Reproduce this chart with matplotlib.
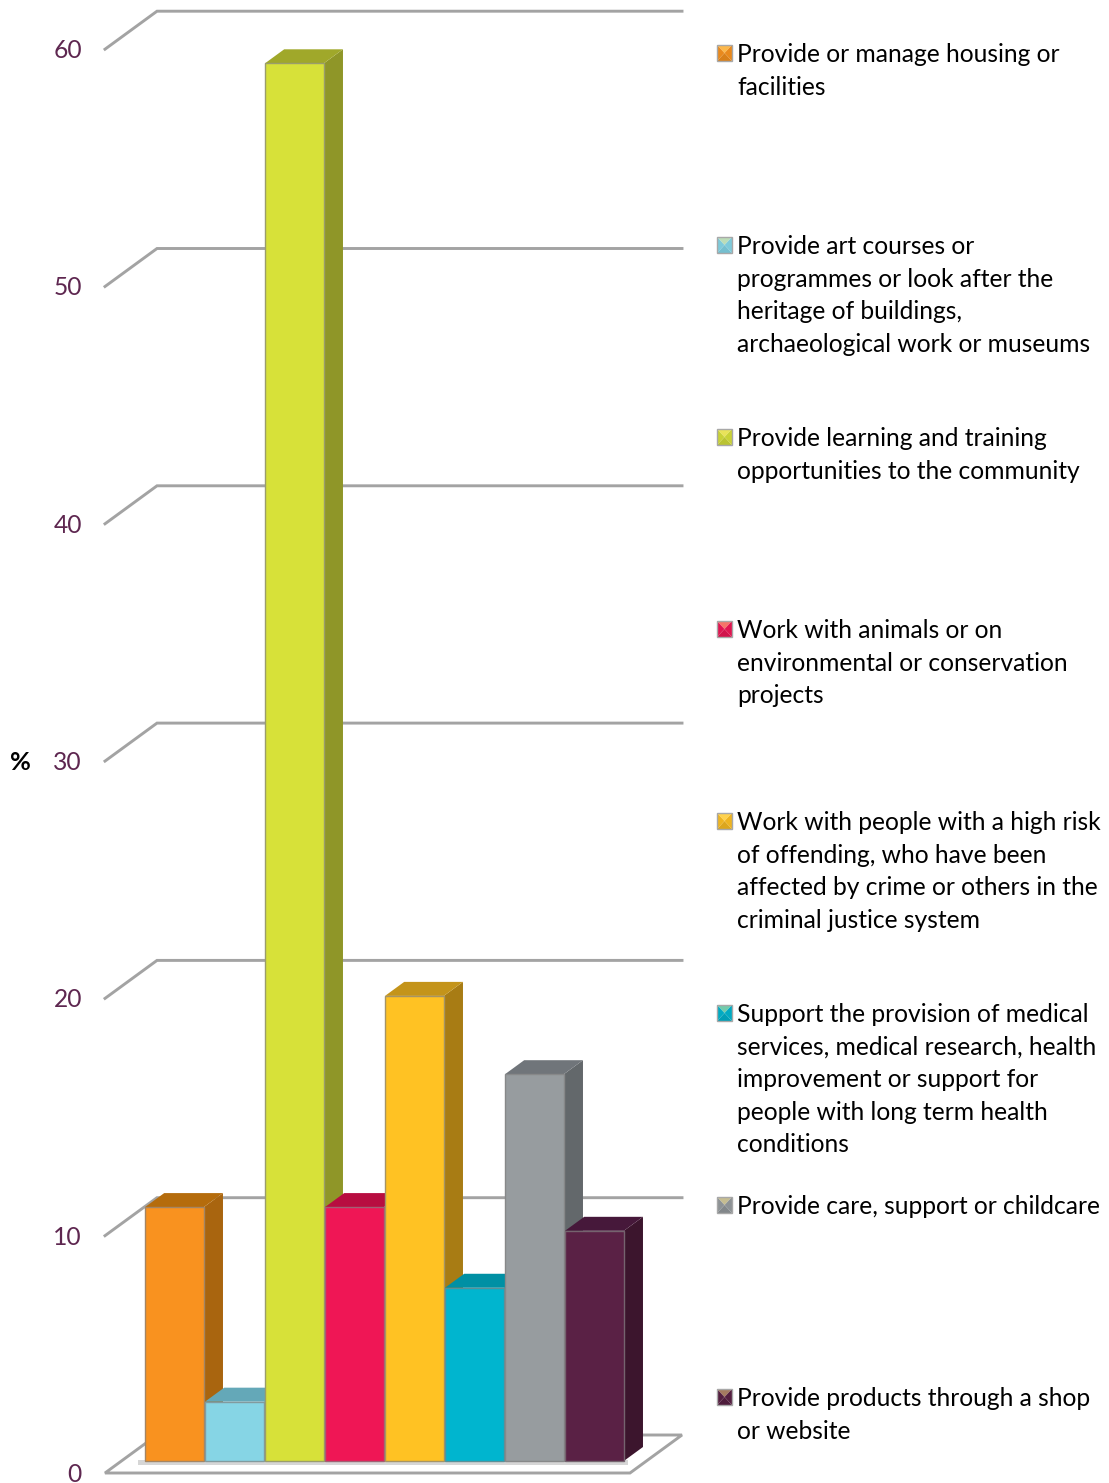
# activity_bars.py
# 3D look column chart, drawn flat with polygons

import matplotlib
matplotlib.use("Agg")
import matplotlib.pyplot as plt
from matplotlib.colors import to_rgb
from matplotlib.patches import Polygon

plt.rcParams["font.family"] = ["Lato", "DejaVu Sans"]

# ----- data
categories = [
    "Provide or manage housing or\nfacilities",
    "Provide art courses or\nprogrammes or look after the\nheritage of buildings,\narchaeological work or museums",
    "Provide learning and training\nopportunities to the community",
    "Work with animals or on\nenvironmental or conservation\nprojects",
    "Work with people with a high risk\nof offending, who have been\naffected by crime or others in the\ncriminal justice system",
    "Support the provision of medical\nservices, medical research, health\nimprovement or support for\npeople with long term health\nconditions",
    "Provide care, support or childcare",
    "Provide products through a shop\nor website",
]
values = [10.7, 2.5, 58.9, 10.7, 19.6, 7.3, 16.3, 9.7]
ticks = [0, 10, 20, 30, 40, 50, 60]

front_colors = ["#F9921F", "#86D5E5", "#D7E139", "#EF1655", "#FFC223", "#00B5CF", "#979C9F", "#5A2145"]
side_colors = ["#A9650F", "#5C9FAE", "#8F9628", "#A30F3B", "#A87C14", "#007E90", "#63686B", "#3C152D"]
top_colors = ["#B56C0C", "#64A8B8", "#A0A82A", "#B80D40", "#C4941A", "#0090A4", "#70757A", "#46183A"]

# ----- geometry of the picture, in pixels
W, H = 1109, 1483
SLOT = 60.0        # px per category
PER_UNIT = 23.73   # px per percent
ZERO_Y = 1473
LEFT = 105
FLOOR_W = 525
DEPTH_X = 52 / SLOT
DEPTH_Y = 38 / PER_UNIT
BAR_D0, BAR_D1 = 12 / 38, 26 / 38
BAR_X0 = 23.6      # px from floor corner to the first slot
AXIS = "#A3A3A3"
TICK_COLOR = "#5E2750"
FS = 17.75


def fx(px):
    return (px - LEFT - BAR_X0) / SLOT


def fy(py):
    return (ZERO_Y - py) / PER_UNIT


def proj(x, v, d):
    """Move a point (slot, percent) back into the depth of the chart."""
    return (x + d * DEPTH_X, v + d * DEPTH_Y)


def mix(a, b, t):
    return tuple((1 - t) * p + t * q for p, q in zip(to_rgb(a), to_rgb(b)))


def main():
    fig = plt.figure(figsize=(W / 100, H / 100), dpi=100)
    ax = fig.add_axes([0, 0, 1, 1])
    ax.set_xlim(fx(0), fx(W))
    ax.set_ylim(fy(H), fy(0))
    ax.set_axis_off()

    x_start = fx(LEFT)
    x_end = fx(LEFT + FLOOR_W)

    # grid lines: slanted part on the side wall, then along the back wall
    for t in ticks[1:]:
        pts = [proj(x_start, t, 0), proj(x_start, t, 1), proj(x_end, t, 1)]
        ax.plot(*zip(*pts), color=AXIS, lw=2.1, solid_joinstyle="miter", zorder=1)

    # floor and the soft shadow under the bars
    floor = [proj(x_start, 0, 1), proj(x_start, 0, 0), proj(x_end, 0, 0), proj(x_end, 0, 1)]
    ax.add_patch(Polygon(floor, closed=True, facecolor="white", edgecolor=AXIS, lw=2.1, zorder=1))
    ax.add_patch(Polygon([(fx(138), fy(1460)), (fx(628), fy(1460)), (fx(628), fy(1465)), (fx(138), fy(1465))],
                         closed=True, facecolor="#D6D6D6", edgecolor="none", zorder=1.5))

    # bars go left to right so each front hides the side of the one before
    for i, v in enumerate(values):
        z = 2 + i
        l, r = i, i + 0.98
        side = [proj(r, 0, BAR_D0), proj(r, 0, BAR_D1), proj(r, v, BAR_D1), proj(r, v, BAR_D0)]
        top = [proj(l, v, BAR_D0), proj(r, v, BAR_D0), proj(r, v, BAR_D1), proj(l, v, BAR_D1)]
        front = [proj(l, 0, BAR_D0), proj(r, 0, BAR_D0), proj(r, v, BAR_D0), proj(l, v, BAR_D0)]
        ax.add_patch(Polygon(side, closed=True, facecolor=side_colors[i], edgecolor="none", zorder=z))
        ax.add_patch(Polygon(top, closed=True, facecolor=top_colors[i], edgecolor="none", zorder=z))
        ax.add_patch(Polygon(front, closed=True, facecolor=front_colors[i],
                             edgecolor=mix(front_colors[i], "#808080", 0.7),
                             lw=1.0, zorder=z + 0.5))

    # y labels
    for t in ticks:
        ax.text(fx(82), t - 0.06, str(t), ha="right", va="center", color=TICK_COLOR, fontsize=FS)
    ax.text(fx(20.5), fy(762), "%", ha="center", va="center", color="black",
            fontsize=18.3, fontweight="bold")

    # legend keys and labels
    for i, label in enumerate(categories):
        cy = 53 + 192 * i
        x0, x1 = fx(717), fx(732)
        y0, y1 = fy(cy + 8), fy(cy - 8)
        xc, yc = (x0 + x1) / 2, (y0 + y1) / 2
        tri = [([(x0, y1), (x1, y1), (xc, yc)], mix(front_colors[i], "#FFE680", 0.45)),
               ([(x0, y0), (x1, y0), (xc, yc)], mix(front_colors[i], side_colors[i], 0.4)),
               ([(x0, y0), (x0, y1), (xc, yc)], mix(front_colors[i], side_colors[i], 0.2)),
               ([(x1, y0), (x1, y1), (xc, yc)], mix(front_colors[i], side_colors[i], 0.2))]
        for pts, c in tri:
            ax.add_patch(Polygon(pts, closed=True, facecolor=c, edgecolor="none", zorder=20))
        ax.add_patch(Polygon([(x0, y0), (x1, y0), (x1, y1), (x0, y1)], closed=True,
                             facecolor="none", edgecolor="#A8A8A8", lw=1.0, zorder=21))
        for j, line in enumerate(label.split("\n")):
            ax.text(fx(737), fy(cy + 9 + 32.6 * j), line, ha="left", va="baseline",
                    color="black", fontsize=FS)

    fig.savefig("out.png", dpi=100, facecolor="white")


if __name__ == "__main__":
    main()
